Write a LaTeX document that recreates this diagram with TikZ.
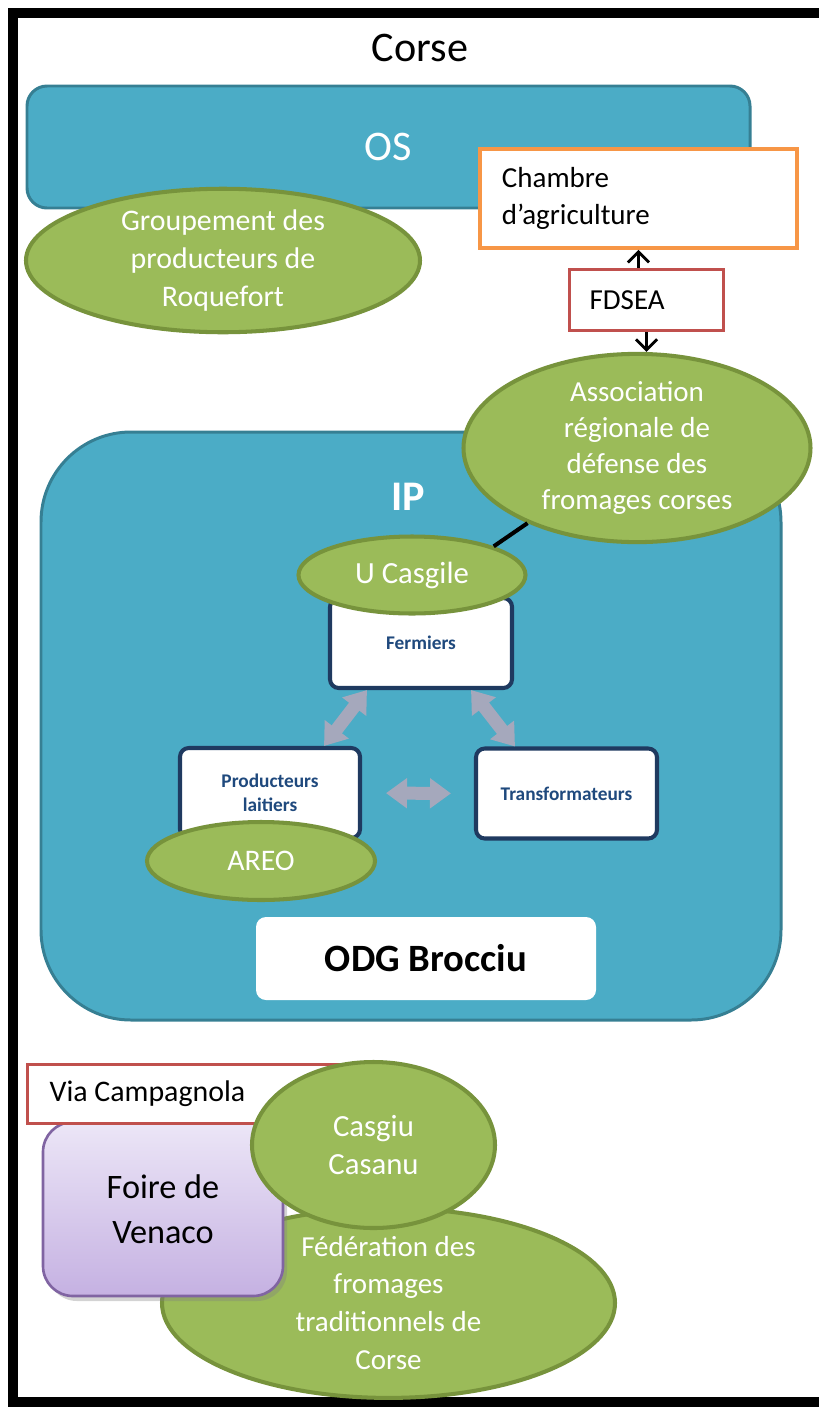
\documentclass[tikz,border=0pt]{standalone}
\usepackage{fontspec}
\setmainfont{Carlito}
\usetikzlibrary{arrows.meta, shapes.geometric, shadows}

\definecolor{ipblue}{HTML}{4BACC6}
\definecolor{ipborder}{HTML}{367F93}
\definecolor{blobgreen}{HTML}{9BBB59}
\definecolor{blobborder}{HTML}{77933C}
\definecolor{chamberorange}{HTML}{F79646}
\definecolor{tagred}{HTML}{C0504D}
\definecolor{navyline}{HTML}{1F3A60}
\definecolor{navytext}{HTML}{1F497D}
\definecolor{arrowgray}{HTML}{A5A8BC}
\definecolor{lilactop}{HTML}{ECE6F7}
\definecolor{lilacbottom}{HTML}{C5B1E2}
\definecolor{lilacline}{HTML}{8064A2}

\begin{document}
\begin{tikzpicture}[
        panel/.style={rectangle, draw=ipborder, fill=ipblue, line width=1.7pt},
        blob/.style={ellipse, draw=blobborder, fill=blobgreen, line width=2.3pt,
                     text=white, align=center, inner sep=0pt},
        member/.style={rectangle, draw=navyline, fill=white, rounded corners=5pt,
                       line width=2.3pt, text=navytext, align=center,
                       minimum width=3.6cm, minimum height=1.8cm,
                       font=\bfseries\fontsize{11}{13.7}\selectfont},
        tag/.style={rectangle, draw=tagred, fill=white, line width=1.8pt,
                    align=flush left, anchor=north west, inner ysep=0pt},
        link/.style={-{Straight Barb[length=6pt, width=12pt]}, line width=1.6pt},
        tie/.style={line width=2.3pt},
        twoway/.style={{Triangle[width=0.58cm, length=0.42cm]}-{Triangle[width=0.58cm, length=0.42cm]},
                       draw=arrowgray, line width=0.26cm},
    ]
    \useasboundingbox (0,0) rectangle (16.38,-28.14);

    % cadre
    \draw[line width=0.2cm] (0.26,-0.26) rectangle (17.5,-28.04);
    \node[font=\fontsize{24}{28}\selectfont] (title) at (8.4,-0.96) {Corse};

    % OS
    \node[panel, rounded corners=0.4cm, minimum width=14.46cm, minimum height=2.44cm,
          text=white, font=\fontsize{24}{28}\selectfont] (os) at (7.77,-2.94) {OS};
    \node[blob, minimum width=7.88cm, minimum height=2.78cm,
          font=\fontsize{17}{21.6}\selectfont] (groupement) at (4.46,-5.21)
        {Groupement des\\producteurs de\\Roquefort};

    % chambre et FDSEA
    \node[tag, draw=chamberorange, line width=2.2pt, text width=5.46cm, inner xsep=0.44cm,
          minimum height=1.98cm, font=\fontsize{16.5}{20.5}\selectfont] (chambre) at (9.56,-2.94)
        {Chambre\\d’agriculture};
    \node[tag, text width=2.28cm, inner xsep=0.4cm, minimum height=1.22cm,
          font=\fontsize{16.5}{20.5}\selectfont] (fdsea) at (11.36,-5.36) {FDSEA};

    % IP
    \node[panel, rounded corners=1.8cm, minimum width=14.8cm, minimum height=11.76cm] (ip) at (8.22,-14.52) {};
    \node[text=white, font=\bfseries\fontsize{24}{28}\selectfont] (iplabel) at (8.16,-9.94) {IP};

    \node[blob, minimum width=6.94cm, minimum height=3.68cm,
          font=\fontsize{16.5}{20.5}\selectfont] (asso) at (12.74,-8.96)
        {Association\\régionale de\\défense des\\fromages corses};

    \draw[link] (fdsea.north -| chambre.south) -- (chambre.south);
    \draw[link] (fdsea.south) -- (fdsea.south |- asso.north);

    % membres
    \node[member, minimum width=3.64cm] (fermiers) at (8.42,-12.86) {Fermiers};
    \node[member] (producteurs) at (5.4,-15.86) {Producteurs\\laitiers};
    \node[member, minimum width=3.62cm] (transfo) at (11.33,-15.87) {Transformateurs};

    \node[blob, minimum width=4.54cm, minimum height=1.54cm,
          font=\fontsize{17.5}{21}\selectfont] (ucasgile) at (8.24,-11.5) {U Casgile};
    \node[blob, minimum width=4.56cm, minimum height=1.56cm,
          font=\fontsize{17}{21}\selectfont] (areo) at (5.22,-17.22) {AREO};

    \draw[tie] (asso) -- (ucasgile.north east);

    \draw[twoway] ([xshift=-0.76cm]producteurs.north east) -- ([xshift=0.78cm]fermiers.south west);
    \draw[twoway] ([xshift=-0.86cm]fermiers.south east) -- ([xshift=0.82cm]transfo.north west);
    \draw[twoway, shorten <=0.48cm, shorten >=0.46cm] (producteurs.east) -- (transfo.west);

    \node[rectangle, fill=white, rounded corners=0.2cm, minimum width=6.8cm, minimum height=1.66cm,
          font=\bfseries\fontsize{22}{26}\selectfont] (odg) at (8.52,-19.17) {ODG Brocciu};

    % en bas
    \node[blob, minimum width=9.06cm, minimum height=3.6cm,
          font=\fontsize{16.5}{21.6}\selectfont] (federation) at (7.77,-26.06)
        {Fédération des\\fromages\\traditionnels de\\Corse};
    \node[rectangle, rounded corners=0.6cm, draw=lilacline, line width=1.5pt,
          top color=lilactop, bottom color=lilacbottom,
          drop shadow={opacity=0.35, shadow xshift=0.08cm, shadow yshift=-0.1cm},
          minimum width=4.8cm, minimum height=3.48cm, align=center,
          font=\fontsize{19.5}{25.6}\selectfont] (foire) at (3.26,-24.18) {Foire de\\Venaco};
    \node[tag, text width=6.38cm, inner xsep=0.44cm, minimum height=1.18cm,
          font=\fontsize{17}{21}\selectfont] (via) at (0.52,-21.26) {Via Campagnola};
    \node[blob, minimum width=4.86cm, minimum height=3.32cm,
          font=\fontsize{17.5}{21.6}\selectfont] (casgiu) at (7.47,-22.9) {Casgiu\\Casanu};

\end{tikzpicture}
\end{document}
